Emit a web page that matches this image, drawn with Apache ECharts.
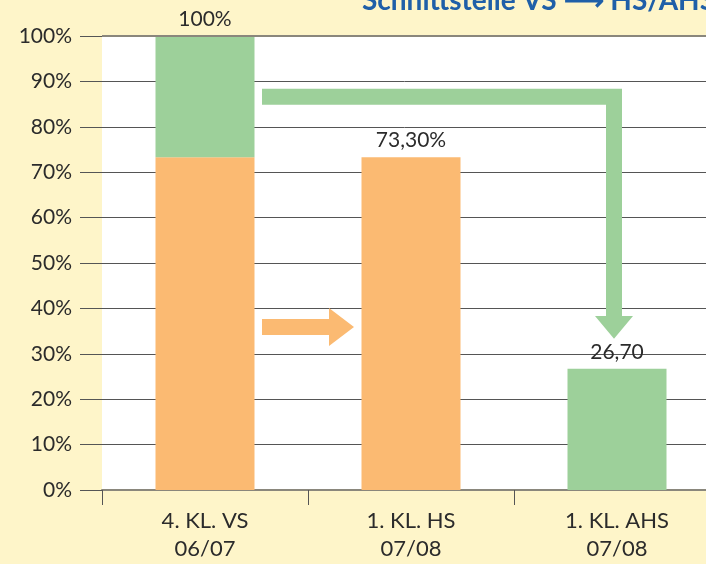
<!DOCTYPE html>
<html lang="de">
<head>
    <meta charset="UTF-8">
    <title>Schnittstelle VS - HS/AHS</title>
    <script src="https://cdn.jsdelivr.net/npm/echarts@6/dist/echarts.min.js"></script>
    <style>
        html, body { margin: 0; padding: 0; background: #FEF5C9; }
        #chart { width: 706px; height: 564px; }
    </style>
</head>
<body>
<div id="chart"></div>
<script>
    // Daten
    var categories = ['4. KL. VS\n06/07', '1. KL. HS\n07/08', '1. KL. AHS\n07/08'];
    var hsShare = [73.3, 73.3, null];
    var ahsShare = [26.7, null, 26.7];
    var valueLabels = ['100%', '73,30%', '26,70'];
    var yTicks = [0, 10, 20, 30, 40, 50, 60, 70, 80, 90, 100];

    var orange = '#FBBA72';
    var green = '#9DD09A';
    var font = 'Lato';

    var myChart = echarts.init(document.getElementById('chart'));

    var option = {
        backgroundColor: '#FEF5C9',
        animation: false,
        title: {
            text: 'Schnittstelle VS \u27F6 HS/AHS',
            left: 362,
            top: -13,
            padding: 0,
            textStyle: { color: '#1F5FA8', fontSize: 28, fontWeight: 'bold', fontFamily: font }
        },
        grid: {
            left: 102,
            top: 36,
            width: 618,
            bottom: 74,
            outerBoundsMode: 'none',
            containLabel: false,
            show: true,
            backgroundColor: '#fff',
            borderWidth: 0
        },
        xAxis: {
            type: 'category',
            data: categories,
            axisLine: { lineStyle: { color: '#8a877c', width: 2 } },
            axisTick: { show: true, alignWithLabel: false, length: 15, lineStyle: { color: '#555' } },
            axisLabel: {
                margin: 17,
                fontSize: 22,
                lineHeight: 28,
                color: '#2b2b2b',
                fontFamily: font
            }
        },
        yAxis: {
            type: 'value',
            min: yTicks[0],
            max: yTicks[yTicks.length - 1],
            interval: 10,
            axisLine: { show: false },
            axisTick: { show: true, length: 22, lineStyle: { color: '#555' } },
            splitLine: { lineStyle: { color: '#555', width: 1 } },
            axisLabel: {
                margin: 30,
                fontSize: 21,
                color: '#2b2b2b',
                fontFamily: font,
                formatter: '{value}%'
            }
        },
        series: [{
            name: 'HS',
            type: 'bar',
            stack: 'all',
            barWidth: 99,
            data: hsShare,
            itemStyle: { color: orange },
            label: {
                show: true,
                position: 'top',
                distance: 6,
                fontSize: 21,
                color: '#2b2b2b',
                fontFamily: font,
                formatter: function (p) {
                    return ahsShare[p.dataIndex] == null ? valueLabels[p.dataIndex] : '';
                }
            },
            markLine: {
                silent: true,
                symbol: 'none',
                label: { show: false },
                lineStyle: { color: '#8a877c', width: 2, type: 'solid' },
                data: [{ yAxis: 100 }]
            }
        }, {
            name: 'AHS',
            type: 'bar',
            stack: 'all',
            barWidth: 99,
            data: ahsShare,
            itemStyle: { color: green },
            label: {
                show: true,
                position: 'top',
                distance: 6,
                fontSize: 21,
                color: '#2b2b2b',
                fontFamily: font,
                formatter: function (p) {
                    return valueLabels[p.dataIndex];
                }
            }
        }]
    };
    myChart.setOption(option);

    // Pfeile (Anmerkungen) aus Achsenkoordinaten berechnen
    function px(cat, val) {
        return myChart.convertToPixel({ gridIndex: 0 }, [cat, val]);
    }
    var c0 = px(0, 0)[0], c1 = px(1, 0)[0], c2 = px(2, 0)[0] - 3;
    var x0 = c0 + 57;
    var gy = px(0, 86.6)[1];
    var headBase = px(0, 38.3)[1];
    var tip = px(0, 33.3)[1];
    var oy = px(0, 35.9)[1];
    var ot = c1 - 57, oh = ot - 25;

    myChart.setOption({
        graphic: [{
            type: 'polygon',
            z: 100,
            shape: { points: [
                [x0, gy - 8], [c2 + 8, gy - 8], [c2 + 8, headBase], [c2 + 19, headBase],
                [c2, tip], [c2 - 19, headBase], [c2 - 8, headBase], [c2 - 8, gy + 8], [x0, gy + 8]
            ] },
            style: { fill: green }
        }, {
            type: 'polygon',
            z: 100,
            shape: { points: [
                [x0, oy - 8], [oh, oy - 8], [oh, oy - 19], [ot, oy],
                [oh, oy + 19], [oh, oy + 8], [x0, oy + 8]
            ] },
            style: { fill: orange }
        }]
    });
</script>
</body>
</html>
